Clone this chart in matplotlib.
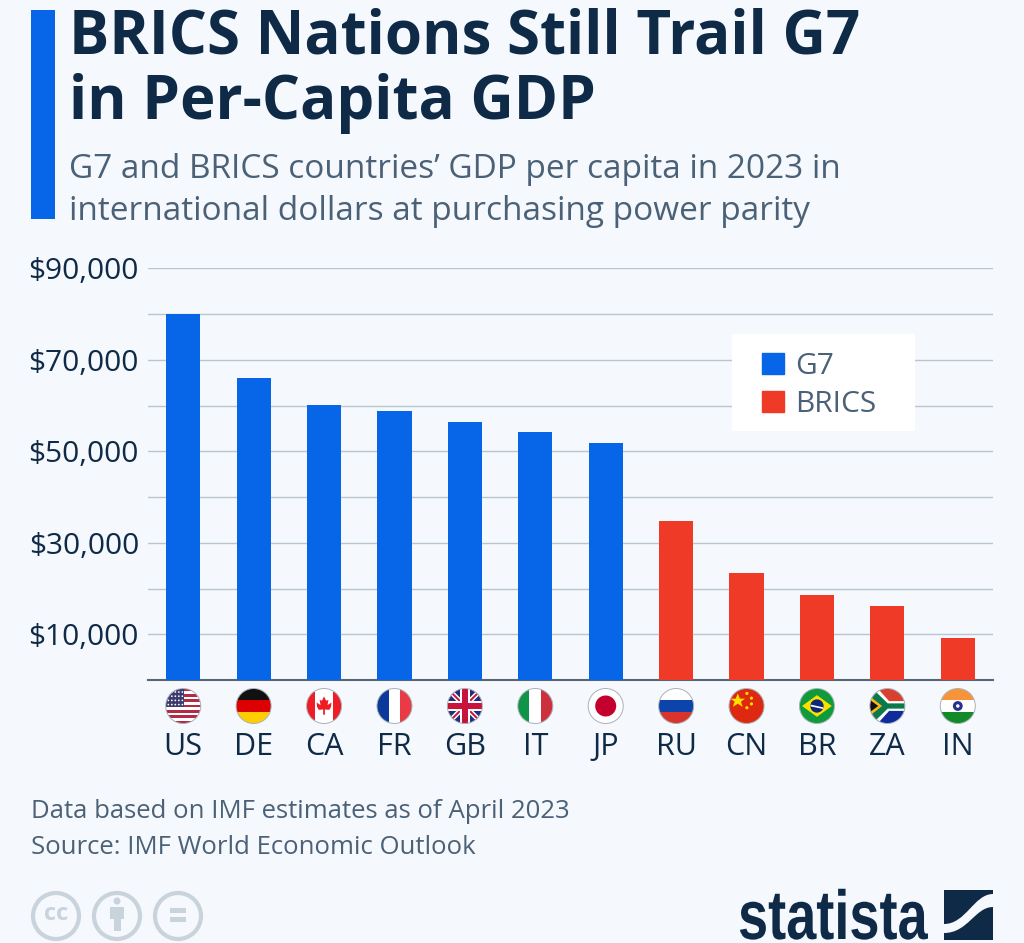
import matplotlib
matplotlib.use("Agg")
import matplotlib.pyplot as plt
from matplotlib.patches import Circle, Rectangle, Polygon, Ellipse, Patch, PathPatch
from matplotlib.path import Path
from matplotlib.patheffects import AbstractPathEffect
from matplotlib.transforms import Affine2D

plt.rcParams["font.family"] = ["Open Sans", "DejaVu Sans"]

# values
countries = ["US", "DE", "CA", "FR", "GB", "IT", "JP", "RU", "CN", "BR", "ZA", "IN"]
gdp_per_capita = [80100, 66100, 60200, 58900, 56500, 54300, 51900,
                  34800, 23400, 18600, 16200, 9200]
groups = ["G7"] * 7 + ["BRICS"] * 5
grid_ticks = [0, 10000, 20000, 30000, 40000, 50000, 60000, 70000, 80000, 90000]
tick_labels = ["", "$10,000", "", "$30,000", "", "$50,000", "", "$70,000", "", "$90,000"]

BLUE = "#0766e8"
RED = "#ee3a26"
BG = "#f5f8fc"
NAVY = "#0f2a47"
SLATE = "#4b6177"
W, H = 1024, 943


class TallText(AbstractPathEffect):
    """Stretch text vertically around its baseline (the logo face is condensed)."""

    def __init__(self, baseline, factor):
        super().__init__()
        self.baseline = baseline
        self.factor = factor

    def draw_path(self, renderer, gc, tpath, affine, rgbFace=None):
        stretch = Affine2D().translate(0, -self.baseline).scale(1, self.factor).translate(0, self.baseline)
        renderer.draw_path(gc, tpath, affine + stretch, rgbFace)


def flag(ax, code, cx, cy, r=17.5):
    """Small round flag; shapes are given in a -1..1 box around the centre."""
    clip = Circle((cx, cy), r, transform=ax.transData)

    def add(p):
        ax.add_patch(p)
        p.set_clip_path(clip)

    def rect(x0, y0, x1, y1, c):
        add(Rectangle((cx + x0 * r, cy + y0 * r), (x1 - x0) * r, (y1 - y0) * r,
                      fc=c, ec="none", lw=0))

    def poly(pts, c):
        add(Polygon([(cx + x * r, cy + y * r) for x, y in pts], closed=True, fc=c, ec="none", lw=0))

    if code == "US":
        rect(-1, -1, 1, 1, "white")
        for i in range(7):
            rect(-1, -1 + i * 2 / 6.5, 1, -1 + i * 2 / 6.5 + 2 / 13, "#b22a44")
        rect(-1, -1, 0.05, 0.05, "#3c3b6e")
        for row in range(4):
            for col in range(5):
                add(Circle((cx + (-0.85 + col * 0.2) * r, cy + (-0.8 + row * 0.24) * r),
                           0.05 * r, fc="white", ec="none"))
    elif code == "DE":
        rect(-1, -1, 1, -1 / 3, "#111111")
        rect(-1, -1 / 3, 1, 1 / 3, "#dd0000")
        rect(-1, 1 / 3, 1, 1, "#ffce00")
    elif code == "CA":
        rect(-1, -1, 1, 1, "white")
        rect(-1, -1, -0.5, 1, "#ee1c25")
        rect(0.5, -1, 1, 1, "#ee1c25")
        poly([(0, -0.55), (0.12, -0.3), (0.25, -0.35), (0.2, -0.05), (0.42, -0.2), (0.4, 0.05),
              (0.3, 0.22), (0.05, 0.2), (0.05, 0.5), (-0.05, 0.5), (-0.05, 0.2), (-0.3, 0.22),
              (-0.4, 0.05), (-0.42, -0.2), (-0.2, -0.05), (-0.25, -0.35), (-0.12, -0.3)], "#ee1c25")
    elif code == "FR":
        rect(-1, -1, -1 / 3, 1, "#0b3a9a")
        rect(-1 / 3, -1, 1 / 3, 1, "white")
        rect(1 / 3, -1, 1, 1, "#ea3a46")
    elif code == "GB":
        rect(-1, -1, 1, 1, "#1f2f77")
        poly([(-1, -0.8), (-0.8, -1), (1, 0.8), (0.8, 1)], "white")
        poly([(1, -0.8), (0.8, -1), (-1, 0.8), (-0.8, 1)], "white")
        poly([(-1, -0.92), (-0.92, -1), (1, 0.92), (0.92, 1)], "#c8143c")
        poly([(1, -0.92), (0.92, -1), (-1, 0.92), (-0.92, 1)], "#c8143c")
        rect(-1, -0.3, 1, 0.3, "white")
        rect(-0.3, -1, 0.3, 1, "white")
        rect(-1, -0.17, 1, 0.17, "#c8143c")
        rect(-0.17, -1, 0.17, 1, "#c8143c")
    elif code == "IT":
        rect(-1, -1, -1 / 3, 1, "#0f9448")
        rect(-1 / 3, -1, 1 / 3, 1, "white")
        rect(1 / 3, -1, 1, 1, "#cd2f3c")
    elif code == "JP":
        rect(-1, -1, 1, 1, "white")
        add(Circle((cx, cy), 0.6 * r, fc="#c4002f", ec="none"))
    elif code == "RU":
        rect(-1, -1, 1, -1 / 3, "white")
        rect(-1, -1 / 3, 1, 1 / 3, "#0d44ac")
        rect(-1, 1 / 3, 1, 1, "#d8342b")
    elif code == "CN":
        rect(-1, -1, 1, 1, "#de2910")
        poly([(-0.5, -0.72), (-0.38, -0.42), (-0.08, -0.42), (-0.32, -0.25), (-0.22, 0.05),
              (-0.5, -0.13), (-0.78, 0.05), (-0.68, -0.25), (-0.92, -0.42), (-0.62, -0.42)], "#ffde00")
        for sx, sy in [(0.02, -0.72), (0.28, -0.45), (0.28, -0.12), (0.02, 0.1)]:
            add(Circle((cx + sx * r, cy + sy * r), 0.09 * r, fc="#ffde00", ec="none"))
    elif code == "BR":
        rect(-1, -1, 1, 1, "#0f9b3c")
        poly([(-0.85, 0), (0, -0.62), (0.85, 0), (0, 0.62)], "#ffdf00")
        add(Circle((cx, cy), 0.38 * r, fc="#0b2a7a", ec="none"))
        poly([(-0.36, -0.08), (0.36, 0.08), (0.35, 0.17), (-0.36, 0.02)], "white")
    elif code == "ZA":
        rect(-1, -1, 1, 0, "#d8412f")
        rect(-1, 0, 1, 1, "#0f2a9a")
        poly([(-1, -1), (-0.55, -1), (0.1, -0.28), (1, -0.28), (1, 0.28), (0.1, 0.28),
              (-0.55, 1), (-1, 1)], "white")
        poly([(-1, -0.85), (-0.7, -0.85), (0.02, -0.15), (1, -0.15), (1, 0.15), (0.02, 0.15),
              (-0.7, 0.85), (-1, 0.85)], "#0a7a4a")
        poly([(-1, -0.55), (-0.3, 0), (-1, 0.55)], "#ffb81c")
        poly([(-1, -0.35), (-0.52, 0), (-1, 0.35)], "#111111")
    elif code == "IN":
        rect(-1, -1, 1, -1 / 3, "#f7943a")
        rect(-1, -1 / 3, 1, 1 / 3, "white")
        rect(-1, 1 / 3, 1, 1, "#138a2a")
        add(Circle((cx, cy), 0.28 * r, fc="#2a2f8f", ec="none"))
        add(Circle((cx, cy), 0.1 * r, fc="white", ec="none"))
    # thin outline
    ax.add_patch(Circle((cx, cy), r, fc="none", ec="#a9b1b8", lw=0.7))


fig = plt.figure(figsize=(W / 100, H / 100), dpi=100, facecolor=BG)

# chart area
ax = fig.add_axes([148 / W, 1 - 680 / H, (993 - 148) / W, (680 - 268.5) / H], facecolor="none")
x = list(range(len(countries)))
colors = [BLUE if g == "G7" else RED for g in groups]
ax.bar(x, gdp_per_capita, width=0.485, color=colors, zorder=3)
ax.set_xlim(-0.5, 11.5)
ax.set_ylim(0, 90000)
ax.set_yticks(grid_ticks)
ax.set_yticklabels(tick_labels, fontsize=21.5, color=NAVY)
ax.set_xticks(x)
ax.set_xticklabels(countries, fontsize=22, color=NAVY)
ax.tick_params(axis="y", length=0, pad=6.5)
ax.tick_params(axis="x", length=0, pad=37.5)
ax.grid(axis="y", color="#b9c5d0", lw=1, zorder=1)
ax.set_axisbelow(True)
for side in ["top", "right", "left"]:
    ax.spines[side].set_visible(False)
ax.spines["bottom"].set_color("#566778")
ax.spines["bottom"].set_linewidth(1.5)

# overlay in pixel coordinates for header, legend, flags and footer
ov = fig.add_axes([0, 0, 1, 1], facecolor="none")
ov.set_xlim(0, W)
ov.set_ylim(H, 0)
ov.axis("off")

ov.add_patch(Rectangle((31, 10), 24, 209, fc=BLUE, ec="none"))
ov.text(69, 38, "BRICS Nations Still Trail G7", fontsize=43.2, fontweight="bold", color=NAVY, va="center")
ov.text(69, 104, "in Per-Capita GDP", fontsize=43.2, fontweight="bold", color=NAVY, va="center")
ov.text(69, 169, "G7 and BRICS countries’ GDP per capita in 2023 in", fontsize=24, color=SLATE, va="center")
ov.text(69, 211, "international dollars at purchasing power parity", fontsize=24, color=SLATE, va="center")

ov.add_patch(Rectangle((732, 334), 183, 97, fc="white", ec="none"))
ov.legend(handles=[Patch(color=BLUE, label="G7"), Patch(color=RED, label="BRICS")],
          loc="upper left", bbox_to_anchor=(762, 352), bbox_transform=ov.transData,
          fontsize=21.5, frameon=False, borderpad=0, borderaxespad=0, handlelength=0.74,
          handleheight=0.74, handletextpad=0.37, labelspacing=0.3, labelcolor=SLATE)

for i, code in enumerate(countries):
    px = ax.transData.transform((i, 0))[0]
    flag(ov, code, px, 706)

ov.text(31, 811, "Data based on IMF estimates as of April 2023", fontsize=18.5, color=SLATE, va="center")
ov.text(31, 847, "Source: IMF World Economic Outlook", fontsize=18.5, color=SLATE, va="center")

# licence icons
ICON = "#c9d3dc"
for cx in [56, 117, 178]:
    ov.add_patch(Ellipse((cx, 916), 46, 46, fc="none", ec=ICON, lw=3))
ov.text(56, 914, "cc", fontsize=17, fontweight="bold", color=ICON, ha="center", va="center")
ov.add_patch(Circle((117, 901), 3.5, fc=ICON, ec="none"))
ov.add_patch(Rectangle((110, 907), 14, 12, fc=ICON, ec="none"))
ov.add_patch(Rectangle((113.5, 919), 7, 12, fc=ICON, ec="none"))
ov.add_patch(Rectangle((170, 908), 16, 5, fc=ICON, ec="none"))
ov.add_patch(Rectangle((170, 917), 16, 5, fc=ICON, ec="none"))

# logo
ov.text(738, 939, "statista", fontsize=39, fontweight="bold", color=NAVY, va="baseline",
        family=["Liberation Sans", "DejaVu Sans"],
        path_effects=[TallText(H - 939, 1.28)])
MOVE, LINE, CURVE = Path.MOVETO, Path.LINETO, Path.CURVE4
ov.add_patch(PathPatch(Path([(944, 890), (993, 890), (993, 894), (974, 894), (966, 924), (944, 924), (944, 890)],
                            [MOVE, LINE, LINE, CURVE, CURVE, CURVE, LINE]), fc=NAVY, ec="none"))
ov.add_patch(PathPatch(Path([(993, 907), (975, 907), (968, 933), (944, 933), (944, 940), (993, 940), (993, 907)],
                            [MOVE, CURVE, CURVE, CURVE, LINE, LINE, LINE]), fc=NAVY, ec="none"))

fig.savefig("out.png", dpi=100, facecolor=BG)
